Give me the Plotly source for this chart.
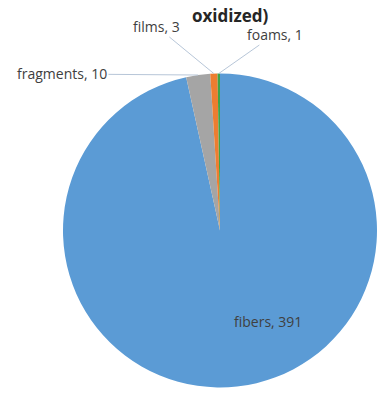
import math
import plotly.graph_objects as go

# Particle shape counts
categories = ["fibers", "fragments", "films", "foams"]
counts = [391, 10, 3, 1]
colors = ["#5B9BD5", "#A5A5A5", "#ED7D31", "#3DA34A"]

W, H = 377, 395
# pie centre and radius in pixels (from top-left)
cx, cy, r = 220, 230.5, 157

fig = go.Figure(go.Pie(
    labels=categories,
    values=counts,
    sort=False,
    direction="clockwise",
    rotation=0,
    marker=dict(colors=colors, line=dict(width=0)),
    textinfo="none",
    hoverinfo="label+value",
    domain=dict(x=[(cx - r) / W, min(1.0, (cx + r) / W)],
                y=[1 - (cy + r) / H, 1 - (cy - r) / H]),
    showlegend=False,
))


def edge_point(idx):
    """Paper coordinates of the outer edge at the middle of slice idx."""
    total = sum(counts)
    before = sum(counts[:idx])
    frac = (before + counts[idx] / 2) / total
    theta = 2 * math.pi * frac
    px = cx + r * math.sin(theta)
    py = cy - r * math.cos(theta)
    return px / W, 1 - py / H, px, py


label_font = dict(family="Open Sans, sans-serif", size=14, color="#404040")
line_col = "#B7C6D8"

# label centres (pixels) for the small slices, joined by leader lines
label_pos = {1: (62, 74), 2: (156, 26), 3: (275, 34)}
annotations = []
for idx, (lx, ly) in label_pos.items():
    xp, yp, px, py = edge_point(idx)
    annotations.append(dict(
        x=xp, y=yp, xref="paper", yref="paper",
        ax=lx - px, ay=ly - py, axref="pixel", ayref="pixel",
        text=f"{categories[idx]}, {counts[idx]}",
        showarrow=True, arrowhead=0, arrowwidth=1, arrowcolor=line_col,
        standoff=0, startstandoff=0, font=label_font,
    ))

# label for the large slice sits inside it
annotations.append(dict(
    x=268 / W, y=1 - 321 / H, xref="paper", yref="paper",
    xanchor="center", yanchor="middle",
    text=f"{categories[0]}, {counts[0]}", showarrow=False, font=label_font,
))

# title (last line)
annotations.append(dict(
    x=230 / W, y=1 - 16 / H, xref="paper", yref="paper",
    xanchor="center", yanchor="middle",
    text="<b>oxidized)</b>", showarrow=False,
    font=dict(family="Open Sans, sans-serif", size=17, color="#262626"),
))

fig.update_layout(
    width=W, height=H,
    margin=dict(l=0, r=0, t=0, b=0, autoexpand=False),
    paper_bgcolor="white",
    annotations=annotations,
)

fig.write_html("out.html")
